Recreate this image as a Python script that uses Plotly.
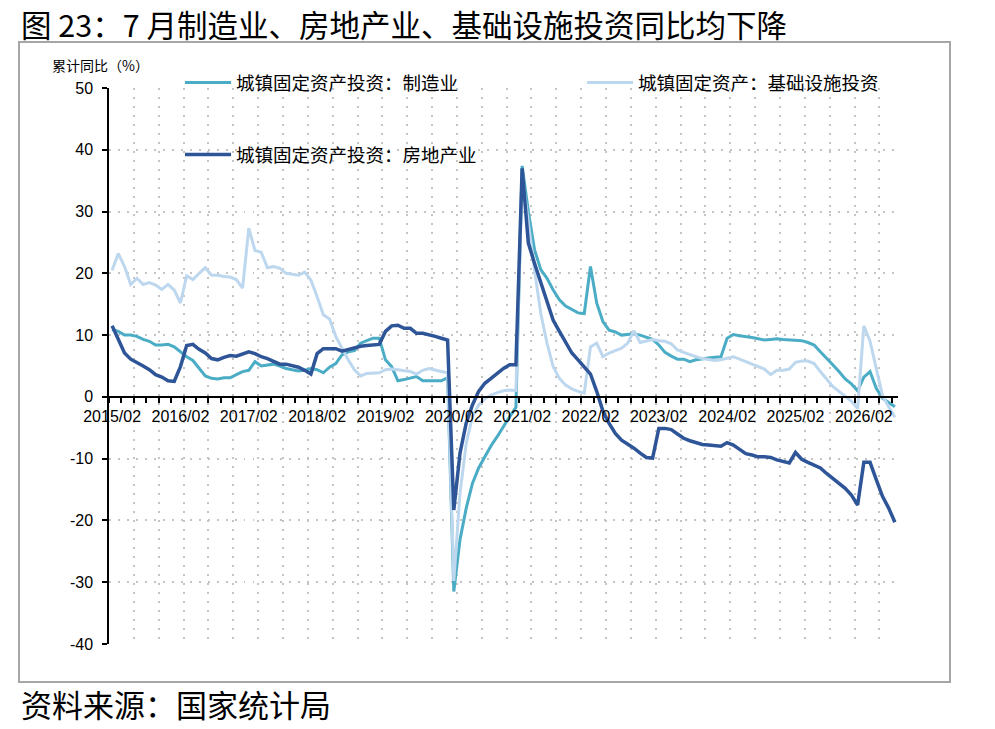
import plotly.graph_objects as go

# 月度（1-2月合并）类目：2015/02 ... 2026/07
months = [f"{y}/{m:02d}" for y in range(2015, 2027) for m in range(2, 13)][:127]
idx = list(range(len(months)))

tick_labels = ["2015/02", "2016/02", "2017/02", "2018/02", "2019/02", "2020/02",
               "2021/02", "2022/02", "2023/02", "2024/02", "2025/02", "2026/02"]
y_ticks = [-40, -30, -20, -10, 0, 10, 20, 30, 40, 50]

# 城镇固定资产投资：制造业 累计同比（%）
manufacturing = [
    10.9, 10.6, 10.0, 10.0, 9.8, 9.3, 9.0, 8.4, 8.4, 8.5, 8.1,
    7.3, 6.5, 5.9, 4.6, 3.4, 3.0, 2.9, 3.1, 3.1, 3.6, 4.1,
    4.3, 5.7, 5.0, 5.2, 5.3, 5.0, 4.6, 4.4, 4.2, 4.3, 4.6,
    4.4, 3.9, 4.8, 5.4, 6.8, 7.3, 7.5, 8.7, 9.1, 9.5, 9.5,
    6.0, 4.9, 2.6, 2.8, 3.0, 3.3, 2.6, 2.6, 2.6, 2.6, 3.1,
    -31.5, -23.1, -18.0, -14.0, -11.5, -9.7, -7.9, -6.4, -4.7, -3.2, -1.7,
    37.4, 30.0, 23.8, 20.6, 19.2, 17.3, 15.7, 14.7, 14.1, 13.6, 13.5,
    21.1, 15.2, 12.2, 10.8, 10.5, 10.0, 10.1, 10.2, 10.0, 9.6, 9.3,
    8.4, 7.2, 6.6, 6.1, 6.1, 5.7, 6.0, 6.2, 6.3, 6.4, 6.5,
    9.5, 10.1, 9.9, 9.8, 9.6, 9.4, 9.2, 9.3, 9.4, 9.3, 9.2,
    9.1, 9.1, 8.8, 8.4, 7.3, 6.3, 5.2, 4.1, 2.9, 2.1, 1.0,
    3.2, 4.1, 1.4, -0.2, -0.9, -1.6,
]

# 城镇固定资产投资：房地产业 累计同比（%）
real_estate = [
    11.5, 9.2, 7.1, 6.1, 5.6, 5.0, 4.4, 3.6, 3.2, 2.6, 2.5,
    4.9, 8.3, 8.5, 7.7, 7.1, 6.2, 6.0, 6.4, 6.7, 6.6, 6.9,
    7.3, 7.0, 6.5, 6.2, 5.7, 5.3, 5.3, 5.1, 4.8, 4.3, 3.7,
    7.0, 7.8, 7.8, 7.8, 7.4, 7.7, 8.0, 8.2, 8.3, 8.4, 8.5,
    10.6, 11.5, 11.6, 11.1, 11.1, 10.3, 10.3, 10.1, 9.8, 9.5, 9.2,
    -18.3, -9.1, -4.2, -1.3, 0.9, 2.2, 3.0, 3.8, 4.6, 5.2, 5.2,
    37.0, 24.9, 21.6, 18.4, 15.2, 12.4, 10.6, 8.7, 7.1, 6.0, 4.9,
    3.7, 0.9, -2.3, -4.3, -5.9, -7.0, -7.6, -8.3, -9.1, -9.8, -9.9,
    -5.1, -5.1, -5.3, -6.0, -6.7, -7.1, -7.4, -7.7, -7.8, -7.9, -8.0,
    -7.4, -7.8, -8.5, -9.2, -9.4, -9.7, -9.7, -9.8, -10.2, -10.5, -10.7,
    -9.0, -10.1, -10.6, -11.0, -11.5, -12.4, -13.2, -13.9, -14.8, -15.9, -17.5,
    -10.6, -10.6, -13.4, -16.1, -18.0, -20.3,
]

# 城镇固定资产：基础设施投资 累计同比（%）
infrastructure = [
    20.5, 23.2, 21.1, 18.2, 19.2, 18.2, 18.5, 18.1, 17.4, 18.2, 17.3,
    15.2, 19.6, 19.0, 20.0, 20.9, 19.7, 19.7, 19.5, 19.4, 19.0, 17.6,
    27.3, 23.7, 23.4, 20.9, 21.1, 20.8, 20.0, 19.9, 19.7, 20.2, 18.9,
    16.2, 13.3, 12.6, 9.8, 7.9, 6.0, 4.4, 3.4, 3.8, 3.8, 3.9,
    4.4, 4.5, 4.4, 4.2, 4.1, 3.7, 4.3, 4.6, 4.3, 4.1, 3.9,
    -29.8, -15.6, -7.5, -3.2, -1.3, -0.3, 0.3, 0.7, 1.0, 1.1, 1.0,
    36.0, 28.0, 20.5, 13.5, 8.7, 4.9, 3.0, 1.9, 1.3, 0.9, 0.6,
    8.1, 8.7, 6.5, 7.1, 7.5, 7.9, 8.7, 10.7, 8.8, 9.1, 9.3,
    9.1, 9.0, 8.6, 7.6, 7.2, 6.8, 6.5, 6.2, 6.0, 5.9, 6.0,
    6.3, 6.5, 6.1, 5.7, 5.4, 5.0, 4.5, 3.6, 4.3, 4.3, 4.5,
    5.6, 5.8, 5.8, 5.4, 4.1, 2.8, 1.7, 0.9, 0.1, -0.7, -1.9,
    11.5, 9.0, 4.4, 0.2, -1.6, -3.3,
]

TEAL = "#4BACC6"
NAVY = "#2E5597"
PALE = "#BDD7EE"
CJK = "Noto Sans CJK SC"
GRID = dict(showgrid=True, gridcolor="#c4c4c4", gridwidth=1.5, griddash="1.5px,7.5px")

fig = go.Figure()
fig.add_trace(go.Scatter(x=idx, y=manufacturing, mode="lines", name="城镇固定资产投资：制造业",
                         line=dict(color=TEAL, width=3), legend="legend", text=months))
fig.add_trace(go.Scatter(x=idx, y=infrastructure, mode="lines", name="城镇固定资产：基础设施投资",
                         line=dict(color=PALE, width=3), legend="legend3", text=months))
# 房地产放在 x2 上：x2 同时负责每 4 个月一条的竖向点线网格
fig.add_trace(go.Scatter(x=idx, y=real_estate, mode="lines", name="城镇固定资产投资：房地产业",
                         line=dict(color=NAVY, width=3.5), legend="legend2", text=months,
                         xaxis="x2", yaxis="y"))

x_range = [-0.5, len(months) - 0.5]
legend_style = dict(xanchor="left", yanchor="middle", bgcolor="rgba(0,0,0,0)",
                    font=dict(family=CJK, size=18.5, color="black"), itemwidth=46)

fig.update_layout(
    width=995, height=729,
    margin=dict(l=109, r=97, t=88, b=85),
    paper_bgcolor="white", plot_bgcolor="white",
    font=dict(family="Liberation Sans, Arial", color="black"),
    showlegend=True,
    legend=dict(x=0.09, y=1.009, **legend_style),
    legend2=dict(x=0.09, y=0.8795, **legend_style),
    legend3=dict(x=0.5995, y=1.009, **legend_style),
    xaxis=dict(
        range=x_range, anchor="free", position=40 / 90,
        tickmode="array", tickvals=[months.index(t) for t in tick_labels], ticktext=tick_labels,
        ticks="", ticklabelstandoff=5, tickfont=dict(size=16),
        showline=True, linecolor="black", linewidth=1.5,
        showgrid=False, zeroline=False,
        minor=dict(tick0=-0.5, dtick=2, ticks="outside", ticklen=5, tickwidth=1.5,
                   tickcolor="black", showgrid=False),
    ),
    xaxis2=dict(
        range=x_range, overlaying="x", anchor="y", matches="x",
        tick0=-0.5, dtick=4, ticks="", showticklabels=False,
        showline=False, zeroline=False, **GRID,
    ),
    yaxis=dict(
        range=[-40, 50], tickmode="array", tickvals=y_ticks, ticktext=[str(v) for v in y_ticks],
        ticks="outside", ticklen=5, tickwidth=1.5, tickcolor="black", ticklabelstandoff=6,
        tickfont=dict(size=16),
        showline=True, linecolor="black", linewidth=1.5, zeroline=False, **GRID,
    ),
)

# 外框
fig.add_shape(type="rect", xref="paper", yref="paper",
              x0=-0.1141, x1=1.0659, y0=-0.0683, y1=1.0827,
              line=dict(color="#a6a6a6", width=2), layer="below")

fig.add_annotation(text="图 23：7 月制造业、房地产业、基础设施投资同比均下降",
                   xref="paper", yref="paper", x=-0.1141, y=644 / 556,
                   xanchor="left", yanchor="top", showarrow=False,
                   font=dict(family=CJK, size=30.5, color="black"))
fig.add_annotation(text="累计同比（%）", xref="paper", yref="paper", x=-0.0748, y=1.0414,
                   xanchor="left", yanchor="middle", showarrow=False,
                   font=dict(family=CJK, size=14, color="black"))
fig.add_annotation(text="资料来源：国家统计局", xref="paper", yref="paper", x=-0.1141, y=-0.107,
                   xanchor="left", yanchor="middle", showarrow=False,
                   font=dict(family=CJK, size=31, color="black"))

# 页面默认 body 留白 8px，去掉以便图与窗口对齐
fig.write_html("out.html", config={"displayModeBar": False},
               post_script="document.body.style.margin='0';")
